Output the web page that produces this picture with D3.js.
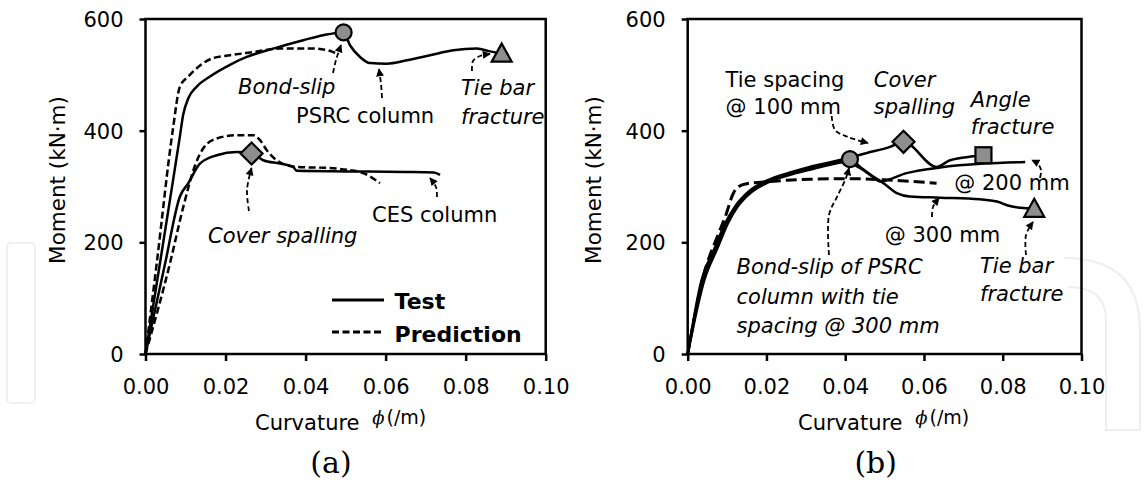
<!DOCTYPE html>
<html><head><meta charset="utf-8">
<script src="https://cdn.jsdelivr.net/npm/d3@7"></script>
<style>
body{margin:0;background:#fff}
svg{display:block}
text{font-family:'DejaVu Sans',sans-serif;fill:#000}
</style>
</head><body>
<svg id="chart" width="1144" height="485"></svg>
<script>
// ---------- tick values / labels ----------
const xTicks = [0, 0.02, 0.04, 0.06, 0.08, 0.10];
const xTickLabels = ["0.00", "0.02", "0.04", "0.06", "0.08", "0.10"];
const yTicks = [0, 200, 400, 600];
const yTickLabels = ["0", "200", "400", "600"];

// ---------- panel (a) series: [curvature (/m), moment (kN·m)] ----------
const aPsrcTest = [[0,0],[0.0036,162],[0.0062,280],[0.0086,390],[0.0094,428],[0.0107,458],[0.0128,479],[0.0161,497],[0.0211,518],[0.0253,532],[0.0319,547],[0.0394,562],[0.0444,571],[0.0495,576],[0.0511,553],[0.0536,532],[0.0561,521],[0.0603,520],[0.0653,526],[0.0711,535],[0.0769,544],[0.0828,547],[0.0861,542],[0.089,538]];
const aPsrcPred = [[0,0],[0.0028,162],[0.0068,400],[0.0086,479],[0.0107,497],[0.0169,530],[0.0211,535],[0.0261,540],[0.0336,547],[0.0419,547],[0.046,543],[0.048,537]];
const aCesTest = [[0,0],[0.0049,162],[0.0086,282],[0.0107,306],[0.0136,341],[0.0178,356],[0.0228,362],[0.0265,360],[0.0294,347],[0.0336,341],[0.0369,335],[0.0378,328],[0.05,327],[0.065,326],[0.072,325],[0.0736,321]];
const aCesPred = [[0,0],[0.0061,162],[0.0095,265],[0.0125,340],[0.0144,368],[0.0178,386],[0.0228,392],[0.0269,392],[0.0286,383],[0.0303,365],[0.0328,347],[0.0378,335],[0.0461,333],[0.0503,330],[0.0544,324],[0.0586,306]];
const aMarkers = [["circle",0.0495,576],["triangle",0.089,538],["diamond",0.0265,359]];

// ---------- panel (b) series ----------
const bTest100 = [[0,0],[0.0035,132],[0.007,192],[0.0095,234],[0.012,264],[0.0155,291],[0.0205,312],[0.026,325],[0.031,335],[0.036,343],[0.0412,352],[0.0455,360],[0.0514,371],[0.0548,380],[0.0632,335],[0.0666,347],[0.0725,354],[0.0751,356]];
const bTest200 = [[0,0],[0.0042,132],[0.0077,192],[0.0102,234],[0.0127,264],[0.0162,290],[0.0212,310],[0.0265,322],[0.0315,331],[0.0362,339],[0.040,344],[0.0438,333],[0.0471,317],[0.0488,309],[0.0556,324],[0.0641,334],[0.0751,341],[0.0857,344]];
const bTest300 = [[0,0],[0.0038,132],[0.0073,192],[0.0098,234],[0.0123,264],[0.0158,291],[0.0208,311],[0.026,323],[0.0311,333],[0.0361,341],[0.0412,349],[0.0438,335],[0.0471,318],[0.0497,306],[0.0531,288],[0.0564,282],[0.0641,280],[0.0742,277],[0.0785,273],[0.0818,265],[0.0861,261],[0.088,260]];
const bPred = [[0,0],[0.004,140],[0.0075,210],[0.0095,245],[0.0116,288],[0.013,300],[0.015,305],[0.021,309],[0.031,313],[0.041,314],[0.05,312],[0.0632,306]];
const bMarkers = [["circle",0.0412,349],["diamond",0.0548,380],["square",0.0751,356],["triangle",0.088,260]];

// ---------- layout ----------
const FS = 21;
const svg = d3.select("#chart");
const panels = {
  a: {left:145.5, right:545.7, top:19, bottom:354},
  b: {left:687.7, right:1081.5, top:19, bottom:354}
};

// arrow marker
svg.append("defs").append("marker")
  .attr("id","ah").attr("viewBox","0 0 10 10").attr("refX",9).attr("refY",5)
  .attr("markerWidth",9).attr("markerHeight",8).attr("markerUnits","userSpaceOnUse")
  .attr("orient","auto")
  .append("path").attr("d","M0,0 L10,5 L0,10 Z").attr("fill","#000");

// faint watermark shapes
svg.append("rect").attr("x",7).attr("y",243).attr("width",28).attr("height",160).attr("rx",4)
  .attr("fill","none").attr("stroke","#f0f0f0").attr("stroke-width",2);
svg.append("path").attr("d","M1064,258 Q1140,258 1140,330 L1140,430 M1068,287 Q1106,287 1106,320 L1106,430 L1140,430")
  .attr("fill","none").attr("stroke","#eeeeee").attr("stroke-width",2);

function drawPanel(p, series, markers, annotations){
  const x = d3.scaleLinear().domain([0,0.1]).range([p.left,p.right]);
  const y = d3.scaleLinear().domain([0,600]).range([p.bottom,p.top]);
  const g = svg.append("g");

  // axes
  const xa = g.append("g").attr("transform",`translate(0,${p.bottom})`)
    .call(d3.axisBottom(x).tickValues(xTicks).tickFormat((d,i)=>xTickLabels[i]).tickSize(7).tickSizeOuter(0));
  const ya = g.append("g").attr("transform",`translate(${p.left},0)`)
    .call(d3.axisLeft(y).tickValues(yTicks).tickFormat((d,i)=>yTickLabels[i]).tickSize(6).tickSizeOuter(0));
  [xa,ya].forEach(a=>{
    a.select(".domain").remove();
    a.selectAll(".tick line").attr("stroke","#000").attr("stroke-width",2.5);
    a.selectAll("text").style("font-family","'DejaVu Sans',sans-serif").style("font-size",FS+"px").attr("fill","#000");
  });
  xa.selectAll("text").attr("y",40).attr("dy",0);
  ya.selectAll("text").attr("x",-22).attr("dy","0.36em");

  // frame
  g.append("rect").attr("x",p.left).attr("y",p.top).attr("width",p.right-p.left).attr("height",p.bottom-p.top)
    .attr("fill","none").attr("stroke","#000").attr("stroke-width",2.5);

  // curves
  const line = d3.line().x(d=>x(d[0])).y(d=>y(d[1])).curve(d3.curveMonotoneX);
  series.forEach(s=>{
    g.append("path").datum(s.data).attr("d",line).attr("fill","none")
      .attr("stroke","#000").attr("stroke-width",s.w||2.5)
      .attr("stroke-dasharray",s.dash||null).attr("stroke-linejoin","round");
  });

  // annotations (dashed arrows)
  annotations.arrows.forEach(a=>{
    g.append("path").attr("d",d3.line().curve(d3.curveCatmullRom)(a))
      .attr("fill","none").attr("stroke","#000").attr("stroke-width",1.8)
      .attr("stroke-dasharray","5,3").attr("marker-end","url(#ah)");
  });
  // annotation texts: [x, firstBaseline, lines[], italic, lineStep]
  annotations.texts.forEach(t=>{
    t[2].forEach((s,i)=>{
      g.append("text").attr("x",t[0]).attr("y",t[1]+i*(t[4]||26)).text(s)
        .style("font-size",FS+"px").style("font-style",t[3]?"italic":"normal");
    });
  });

  // markers
  markers.forEach(m=>{
    const cx = x(m[1]), cy = y(m[2]);
    let el;
    if(m[0]==="circle") el = g.append("circle").attr("cx",cx).attr("cy",cy).attr("r",8);
    else if(m[0]==="diamond") el = g.append("path").attr("d",`M${cx},${cy-11}L${cx+11},${cy}L${cx},${cy+11}L${cx-11},${cy}Z`);
    else if(m[0]==="triangle") el = g.append("path").attr("d",`M${cx},${cy-10}L${cx+10},${cy+8}L${cx-10},${cy+8}Z`);
    else el = g.append("rect").attr("x",cx-8).attr("y",cy-8).attr("width",16).attr("height",16);
    el.attr("fill","#8e8e8e").attr("stroke","#000").attr("stroke-width",2.2).attr("stroke-linejoin","miter");
  });

  return {x,y,g};
}

// ---------- panel (a) ----------
const A = drawPanel(panels.a, [
  {data:aPsrcPred, dash:"7,3.5"},
  {data:aCesPred, dash:"7,3.5"},
  {data:aPsrcTest},
  {data:aCesTest}
], aMarkers, {
  texts:[
    [238,94,["Bond-slip"],true],
    [296,123,["PSRC column"],false],
    [461,95,["Tie bar","fracture"],true,29],
    [208,243,["Cover spalling"],true],
    [372,221.5,["CES column"],false]
  ],
  arrows:[
    [[333,73],[336,60],[341,45]],
    [[382,98],[381,84],[379,69]],
    [[472,71],[473,61],[480,56],[490,54]],
    [[249,211],[247,190],[251.5,168]],
    [[437,197],[436,187],[430,178]]
  ]
});
// legend (a)
A.g.append("line").attr("x1",332).attr("x2",384).attr("y1",300).attr("y2",300).attr("stroke","#000").attr("stroke-width",2.8);
A.g.append("line").attr("x1",332).attr("x2",384).attr("y1",332).attr("y2",332).attr("stroke","#000").attr("stroke-width",2.8).attr("stroke-dasharray","7,3.5");
A.g.append("text").attr("x",394.6).attr("y",309).text("Test").style("font-size","22px").style("font-weight","bold");
A.g.append("text").attr("x",394.6).attr("y",342).text("Prediction").style("font-size","22px").style("font-weight","bold");

// ---------- panel (b) ----------
const B = drawPanel(panels.b, [
  {data:bPred, dash:"11,5", w:3},
  {data:bTest300},
  {data:bTest200},
  {data:bTest100}
], bMarkers, {
  texts:[
    [725.6,87,["Tie spacing","@ 100 mm"],false,26.5],
    [873.8,87,["Cover","spalling"],true,26.5],
    [970.8,107,["Angle","fracture"],true,27],
    [954.3,190,["@ 200 mm"],false],
    [884.8,242,["@ 300 mm"],false],
    [736.5,274,["Bond-slip of PSRC","column with tie","spacing @ 300 mm"],true,29.5],
    [980,273,["Tie bar","fracture"],true,28]
  ],
  arrows:[
    [[831.7,116],[835,130],[848,137],[868,143]],
    [[829,255],[829,215],[838,195],[846,178],[849,168]],
    [[1040,178],[1041,170],[1038,164],[1032,160]],
    [[932,217],[933,207],[939,198]],
    [[1026,255],[1026,235],[1033,222]]
  ]
});

// ---------- axis titles & panel labels ----------
[[panels.a,64.5,331,"(a)",255],[panels.b,601,875.7,"(b)",798]].forEach(([p,yx,cx,lab,cxStart])=>{
  svg.append("text").attr("transform",`translate(${yx},180) rotate(-90)`).attr("text-anchor","middle")
    .style("font-size","21.5px").text("Moment (kN·m)");
  const t = svg.append("text").attr("x",cxStart).attr("y",430).style("font-size",FS+"px");
  t.append("tspan").text("Curvature ");
  t.append("tspan").attr("dx",6).attr("dy",-6).style("font-family","'DejaVu Serif',serif").style("font-style","italic").style("font-size","18px").text("ϕ");
  t.append("tspan").attr("dx",2).style("font-size","19px").text("(/m)");
  svg.append("text").attr("x",cx).attr("y",473).attr("text-anchor","middle")
    .style("font-family","'DejaVu Serif',serif").style("font-size","30px").text(lab);
});
</script>
</body></html>
